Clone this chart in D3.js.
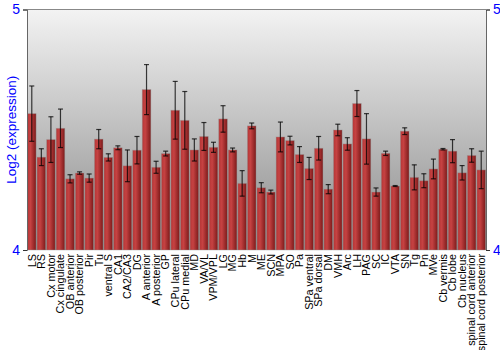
<!DOCTYPE html>
<html>
<head>
<meta charset="utf-8">
<script src="https://cdnjs.cloudflare.com/ajax/libs/d3/7.8.5/d3.min.js"></script>
<style>
  body { margin: 0; background: #fff; }
  text { font-family: "Liberation Sans", Arial, sans-serif; }
</style>
</head>
<body>
<div id="chart"></div>
<script>
// brain regions
var regions = ["LS", "RS", "Cx motor", "Cx cingulate", "OB anterior", "OB posterior", "Pir", "Tu",
  "ventral S", "CA1", "CA2/CA3", "DG", "A anterior", "A posterior", "GP", "CPu lateral",
  "CPu medial", "MD", "VA/VL", "VPM/VPL", "LG", "MG", "Hb", "M", "ME", "SCN", "MPA", "SO",
  "Pa", "SPa ventral", "SPa dorsal", "DM", "VMH", "Arc", "LH", "PAG", "SC", "IC", "VTA", "SN",
  "Tg", "Pn", "MVe", "Cb vermis", "Cb lobe", "Cb nucleus", "spinal cord anterior", "spinal cord posterior"];

var expr = [4.567, 4.386, 4.459, 4.506, 4.296, 4.320, 4.299, 4.461,
  4.385, 4.425, 4.350, 4.415, 4.667, 4.344, 4.401, 4.581,
  4.539, 4.416, 4.472, 4.427, 4.545, 4.416, 4.277, 4.516, 4.259, 4.241, 4.470, 4.455,
  4.397, 4.339, 4.423, 4.253, 4.499, 4.441, 4.609, 4.462, 4.241, 4.402, 4.266, 4.494,
  4.302, 4.288, 4.337, 4.419, 4.411, 4.321, 4.393, 4.333];

var err = [0.115, 0.035, 0.095, 0.080, 0.017, 0.005, 0.017, 0.040,
  0.015, 0.008, 0.066, 0.057, 0.104, 0.025, 0.010, 0.120,
  0.120, 0.046, 0.058, 0.021, 0.055, 0.008, 0.053, 0.012, 0.021, 0.008, 0.062, 0.018,
  0.033, 0.046, 0.049, 0.019, 0.024, 0.026, 0.054, 0.105, 0.017, 0.009, 0.002, 0.014,
  0.052, 0.029, 0.041, 0.003, 0.048, 0.030, 0.028, 0.078];

var yTicks = [4, 5];

var W = 500, H = 350;
var mLeft = 27, mRight = 486, mTop = 9.5, mBottom = 250;

var svg = d3.select("#chart").append("svg")
    .attr("width", W)
    .attr("height", H);

var defs = svg.append("defs");
var bg = defs.append("linearGradient").attr("id", "bg")
    .attr("x1", 0).attr("y1", 0).attr("x2", 0).attr("y2", 1);
bg.append("stop").attr("offset", "0%").attr("stop-color", "#f3f3f3");
bg.append("stop").attr("offset", "100%").attr("stop-color", "#8a8a8a");

var bar = defs.append("linearGradient").attr("id", "bar")
    .attr("x1", 0).attr("y1", 0).attr("x2", 1).attr("y2", 0);
bar.append("stop").attr("offset", "0%").attr("stop-color", "#b53636");
bar.append("stop").attr("offset", "35%").attr("stop-color", "#c64242");
bar.append("stop").attr("offset", "100%").attr("stop-color", "#7c1a1a");

var x = d3.scaleBand()
    .domain(regions)
    .range([mLeft, mRight])
    .paddingInner(0.1)
    .paddingOuter(0.05);

var y = d3.scaleLinear()
    .domain([4, 5])
    .range([mBottom, mTop]);

// plot background
svg.append("rect")
    .attr("x", mLeft).attr("y", mTop)
    .attr("width", mRight - mLeft).attr("height", mBottom - mTop)
    .attr("fill", "url(#bg)");

svg.append("line")
    .attr("x1", mLeft).attr("x2", mRight)
    .attr("y1", mTop).attr("y2", mTop)
    .attr("stroke", "#888");

// bars
svg.selectAll(".bar")
    .data(expr)
    .enter().append("rect")
    .attr("class", "bar")
    .attr("x", function(d, i){ return x(regions[i]); })
    .attr("y", function(d){ return y(d); })
    .attr("width", x.bandwidth())
    .attr("height", function(d){ return mBottom - y(d); })
    .attr("fill", "url(#bar)")
    .attr("stroke", "rgba(150,150,150,0.5)")
    .attr("stroke-width", 0.8);

// error bars
var eb = svg.selectAll(".err")
    .data(expr)
    .enter().append("g")
    .attr("class", "err")
    .attr("stroke", "rgba(0,0,0,0.75)")
    .attr("stroke-width", 1.2);

eb.append("line")
    .attr("x1", function(d, i){ return x(regions[i]) + x.bandwidth() / 2; })
    .attr("x2", function(d, i){ return x(regions[i]) + x.bandwidth() / 2; })
    .attr("y1", function(d, i){ return y(d + err[i]); })
    .attr("y2", function(d, i){ return y(d - err[i]); });

[1, -1].forEach(function(s){
  eb.append("line")
    .attr("x1", function(d, i){ return x(regions[i]) + x.bandwidth() / 2 - 2.5; })
    .attr("x2", function(d, i){ return x(regions[i]) + x.bandwidth() / 2 + 2.5; })
    .attr("y1", function(d, i){ return y(d + s * err[i]); })
    .attr("y2", function(d, i){ return y(d + s * err[i]); });
});

// axes
var yl = svg.append("g")
    .attr("transform", "translate(" + mLeft + ",0)")
    .call(d3.axisLeft(y).tickValues(yTicks).tickSize(4).tickFormat(d3.format("d")));
var yr = svg.append("g")
    .attr("transform", "translate(" + mRight + ",0)")
    .call(d3.axisRight(y).tickValues(yTicks).tickSize(4).tickFormat(d3.format("d")));

[yl, yr].forEach(function(g){
  g.select(".domain").attr("stroke", "#666");
  g.selectAll(".tick line").attr("stroke", "#333");
  g.selectAll(".tick text")
    .attr("fill", "#0000ff")
    .style("font-size", "14px")
    .style("font-family", "Liberation Sans, Arial, sans-serif");
});

svg.append("text")
    .attr("transform", "translate(11," + ((mTop + mBottom) / 2) + ") rotate(-90)")
    .attr("text-anchor", "middle")
    .attr("dy", "0.35em")
    .attr("fill", "#0000ff")
    .style("font-size", "13.5px")
    .text("Log2 (expression)");

// region labels
svg.selectAll(".lab")
    .data(regions)
    .enter().append("text")
    .attr("class", "lab")
    .attr("transform", function(d){
      return "translate(" + (x(d) + x.bandwidth() / 2) + "," + (mBottom + 4) + ") rotate(-90)";
    })
    .attr("text-anchor", "end")
    .attr("dy", "0.35em")
    .style("font-size", "10.8px")
    .attr("fill", "#000")
    .text(function(d){ return d; });
</script>
</body>
</html>
